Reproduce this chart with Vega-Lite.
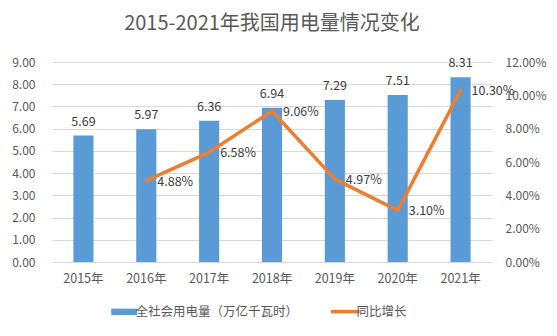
{
  "$schema": "https://vega.github.io/schema/vega-lite/v6.json",
  "width": 440,
  "height": 200,
  "autosize": {"type": "none"},
  "padding": {"left": 52, "right": 65, "top": 62, "bottom": 74},
  "background": "white",
  "title": {
    "text": "2015-2021年我国用电量情况变化",
    "fontSize": 20,
    "font": "Noto Sans CJK SC",
    "fontWeight": "normal",
    "color": "#595959",
    "anchor": "middle",
    "frame": "group",
    "offset": 22
  },
  "config": {
    "font": "Noto Sans CJK SC",
    "view": {"stroke": null},
    "axis": {
      "labelFont": "Noto Sans CJK SC",
      "labelColor": "#595959",
      "labelFontSize": 12,
      "ticks": false,
      "domain": false,
      "gridColor": "#D9D9D9",
      "title": null
    },
    "legend": {
      "labelFont": "Noto Sans CJK SC",
      "labelFontSize": 12.5,
      "labelColor": "#595959",
      "labelLimit": 400
    }
  },
  "data": {
    "values": [
      {"year": "2015年", "value": 5.69, "growth": null},
      {"year": "2016年", "value": 5.97, "growth": 0.0488},
      {"year": "2017年", "value": 6.36, "growth": 0.0658},
      {"year": "2018年", "value": 6.94, "growth": 0.0906},
      {"year": "2019年", "value": 7.29, "growth": 0.0497},
      {"year": "2020年", "value": 7.51, "growth": 0.0310},
      {"year": "2021年", "value": 8.31, "growth": 0.1030}
    ]
  },
  "encoding": {
    "x": {"field": "year", "type": "ordinal", "scale": {"paddingInner": 0.68, "paddingOuter": 0.34}, "axis": {"labelAngle": 0, "domain": true, "domainColor": "#D9D9D9", "labelPadding": 10, "grid": false, "labelFontSize": 12.5}}
  },
  "layer": [
    {
      "encoding": {
        "y": {"field": "value", "type": "quantitative", "scale": {"domain": [0, 9], "nice": false}, "axis": {"values": [0, 1, 2, 3, 4, 5, 6, 7, 8, 9], "format": ".2f", "labelPadding": 17, "grid": true}}
      },
      "layer": [
        {
          "mark": {"type": "bar"},
          "encoding": {
            "color": {
              "datum": "全社会用电量（万亿千瓦时）",
              "scale": {"domain": ["全社会用电量（万亿千瓦时）", "同比增长"], "range": ["#5B9BD5", "#ED7D31"]},
              "legend": {
                "orient": "none",
                "legendX": 66,
                "legendY": 243,
                "direction": "horizontal",
                "title": null,
                "columnPadding": 24,
                "labelOffset": 5,
                "symbolSize": 676,
                "symbolType": "M-1,-0.25H1V0.25H-1Z",
                "encode": {
                  "symbols": {
                    "update": {
                      "shape": {"signal": "datum.label === '同比增长' ? 'M-1.1,0H1.1' : 'M-1,-0.25H1V0.25H-1Z'"},
                      "fill": {"signal": "datum.label === '同比增长' ? 'transparent' : '#5B9BD5'"},
                      "stroke": {"signal": "datum.label === '同比增长' ? '#ED7D31' : 'transparent'"},
                      "strokeWidth": {"signal": "datum.label === '同比增长' ? 3.5 : 0"},
                      "opacity": {"value": 1}
                    }
                  }
                }
              }
            }
          }
        },
        {
          "mark": {"type": "text", "baseline": "alphabetic", "dy": -10, "fontSize": 12.5, "color": "#404040"},
          "encoding": {
            "text": {"field": "value", "type": "quantitative", "format": ".2f"}
          }
        }
      ]
    },
    {
      "transform": [{"filter": "datum.growth != null"}],
      "encoding": {
        "y": {"field": "growth", "type": "quantitative", "scale": {"domain": [0, 0.12], "nice": false}, "axis": {"orient": "right", "values": [0, 0.02, 0.04, 0.06, 0.08, 0.1, 0.12], "format": ".2%", "grid": false, "labelPadding": 13}}
      },
      "layer": [
        {
          "mark": {"type": "line", "strokeWidth": 3.5, "strokeCap": "round", "strokeJoin": "round"},
          "encoding": {
            "color": {"datum": "同比增长"}
          }
        },
        {
          "mark": {"type": "text", "align": "left", "baseline": "middle", "dx": 11, "dy": 1, "fontSize": 12.5, "color": "#404040"},
          "encoding": {
            "text": {"field": "growth", "type": "quantitative", "format": ".2%"}
          }
        }
      ]
    }
  ],
  "resolve": {"scale": {"y": "independent"}}
}
